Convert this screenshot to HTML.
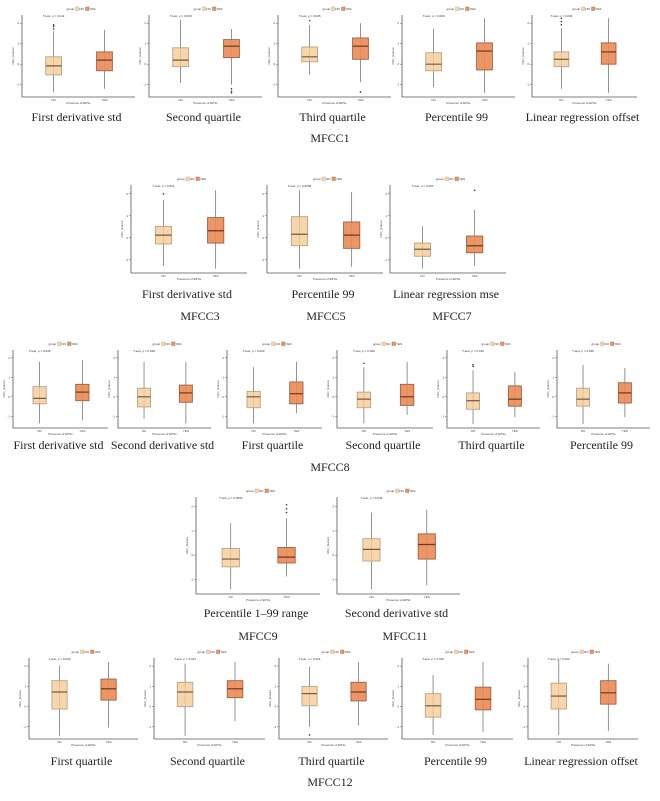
<!DOCTYPE html>
<html><head><meta charset="utf-8">
<style>
html,body{margin:0;padding:0;background:#fff;}
#wrap{position:relative;width:660px;height:801px;overflow:hidden;}
svg{position:absolute;left:0;top:0;}
</style></head>
<body>
<div id="wrap">
<svg id="fig" width="660" height="801" viewBox="0 0 660 801" xmlns="http://www.w3.org/2000/svg"></svg>
</div>
<script>
// ---- data (values on 0-100 normalized axis of each panel): [lowWhisker, q1, median, q3, highWhisker]
const panelTitles = ["First derivative std","Second quartile","Third quartile","Percentile 99","Linear regression offset",
 "First derivative std","Percentile 99","Linear regression mse",
 "First derivative std","Second derivative std","First quartile","Second quartile","Third quartile","Percentile 99",
 "Percentile 1–99 range","Second derivative std",
 "First quartile","Second quartile","Third quartile","Percentile 99","Linear regression offset"];
const groups = ["NO","YES"];
const noStats = [
 [6,27,38,49,80],[17,37,45,60,94],[27,43,49,61,88],[12,32,40,54,83],[10,37,46,55,84],
 [8,33,43,53,83],[5,31,44,64,94],[5,19,27,34,53],
 [6,31,38,53,85],[12,27,40,51,85],[6,26,40,47,78],[6,26,37,46,78],[5,24,35,45,74],[5,28,37,51,81],
 [5,28,36,47,73],[5,34,46,57,84],
 [4,37,58,72,91],[4,40,58,70,93],[15,41,56,65,89],[5,27,41,56,79],[5,37,53,69,98]];
const yesStats = [
 [10,32,45,55,82],[15,48,62,70,83],[18,46,62,72,90],[5,33,56,66,96],[5,40,55,66,96],
 [5,34,48,63,94],[7,28,43,58,92],[8,23,31,42,72],
 [10,35,46,56,87],[6,33,45,55,85],[19,31,44,59,85],[17,29,40,56,85],[14,28,37,54,72],[14,32,45,58,77],
 [18,32,38,48,78],[9,36,51,62,87],
 [14,48,62,74,95],[22,51,62,72,95],[17,47,58,70,95],[9,36,49,64,95],[10,43,57,72,93]];
const noOutliers = [[83,86,88],[],[93],[],[88,92,96],[90],[],[],[],[],[],[83],[79,81],[],[],[],[],[],[5],[],[]];
const yesOutliers = [[],[10,7,5],[6],[],[],[],[],[94],[],[],[],[],[],[],[84,88,92],[],[],[],[],[],[]];
const pTexts = ["T-test, p = 0.211","T-test, p = 0.009","T-test, p = 0.006","T-test, p = 0.009","T-test, p = 0.003",
 "T-test, p = 0.001","T-test, p = 0.0099","T-test, p = 0.001",
 "T-test, p = 0.036","T-test, p = 0.028","T-test, p = 0.020","T-test, p = 0.036","T-test, p = 0.016","T-test, p = 0.036",
 "T-test, p = 0.0093","T-test, p = 0.043",
 "T-test, p = 0.009","T-test, p = 0.021","T-test, p = 0.004","T-test, p = 0.040","T-test, p = 0.020"];
const tickLabels = ["-1","0","1","2"];
const rowLabels = ["MFCC1","MFCC3","MFCC5","MFCC7","MFCC8","MFCC9","MFCC11","MFCC12"];

// ---- layout (pixels)
const layout = [
 [22,15,113,82,117],[149,15,113,82,117],[278,15,113,82,117],[402,15,113,82,117],[532,15,105,82,117],
 [131,185,116,88,294],[267,185,116,88,294],[390,185,116,88,294],
 [13,350,95,78,445],[118,350,93,78,445],[227,350,95,78,445],[337,350,96,78,445],[447,350,93,78,445],[557,350,93,78,445],
 [196,497,124,97,613],[337,497,123,97,613],
 [29,658,109,81,761],[154,658,111,81,761],[279,658,109,81,761],[402,658,111,81,761],[528,658,110,81,761]];
const rowLabelPos = [[330,138],[200,316],[326,316],[452,316],[330,467],[258,636],[405,636],[330,782]];

const NS="http://www.w3.org/2000/svg";
const svg=document.getElementById('fig');
function mk(tag,attrs,parent){const e=document.createElementNS(NS,tag);for(const k in attrs)e.setAttribute(k,attrs[k]);(parent||svg).appendChild(e);return e;}
const fills=["#f9d6aa","#ef9563"], strokes=["#b8a386","#9c6244"], meds=["#6b5a48","#6a3a25"];

panelTitles.forEach((title,i)=>{
  const [x,top,w,h,ty]=layout[i];
  const g=mk('g',{});
  
  
  const yS=v=>top+h-v/100*h;
  const xS=k=>x+w*(k===0?0.28:0.73);
  const ax=mk('path',{d:`M${x},${top} V${top+h} H${x+w}`,stroke:'#555',fill:'none','stroke-width':0.8},g);
  
  
  tickLabels.forEach((t,j)=>{
    const yy=yS(15+j*25);
    mk('line',{x1:x-2,x2:x,y1:yy,y2:yy,stroke:'#555','stroke-width':0.5},g);
    const tl=mk('text',{x:x-3,y:yy+1,'font-size':3,'text-anchor':'end',fill:'#444','font-family':'Liberation Sans, sans-serif'},g);
    tl.textContent=t;
    
    
  });
  const lx=x+w/2;
  const lg=mk('text',{x:lx-12,y:top-5,'font-size':3,fill:'#333','font-family':'Liberation Sans, sans-serif'},g);
  lg.textContent='group';
  
  
  [0,1].forEach(k=>{
    const r=mk('rect',{x:lx-3+k*10,y:top-8,width:3.5,height:3.5,fill:fills[k],stroke:strokes[k],'stroke-width':0.4},g);
    
    
    const lt=mk('text',{x:lx+1+k*10,y:top-5,'font-size':3,fill:'#333','font-family':'Liberation Sans, sans-serif'},g);
    lt.textContent=groups[k];
    
    
  });
  const pt=mk('text',{x:x+w*0.28,y:top+2,'font-size':3,fill:'#333','text-anchor':'middle','font-family':'Liberation Sans, sans-serif'},g);
  pt.textContent=pTexts[i];
  
  
  [noStats[i],yesStats[i]].forEach((s,k)=>{
    const cx=xS(k), bw=w*0.14;
    const wl=mk('line',{x1:cx,x2:cx,y1:yS(s[4]),y2:yS(s[0]),stroke:'#666','stroke-width':0.7},g);
    
    
    const b=mk('rect',{x:cx-bw/2,y:yS(s[3]),width:bw,height:yS(s[1])-yS(s[3]),fill:fills[k],stroke:strokes[k],'stroke-width':0.9},g);
    
    
    mk('line',{x1:cx,x2:cx,y1:yS(s[3]),y2:yS(s[1]),stroke:'#888','stroke-width':0.5,'stroke-dasharray':'1,1'},g);
    const m=mk('line',{x1:cx-bw/2,x2:cx+bw/2,y1:yS(s[2]),y2:yS(s[2]),stroke:meds[k],'stroke-width':1.2},g);
    
    
    (k===0?noOutliers[i]:yesOutliers[i]).forEach(o=>{
      const c=mk('circle',{cx:cx,cy:yS(o),r:0.8,fill:'#333'},g);
      
      
    });
    const xl=mk('text',{x:cx,y:top+h+4,'font-size':3,'text-anchor':'middle',fill:'#444','font-family':'Liberation Sans, sans-serif'},g);
    xl.textContent=groups[k];
    
    
  });
  const xt=mk('text',{x:x+w/2,y:top+h+7,'font-size':3,'text-anchor':'middle',fill:'#444','font-family':'Liberation Sans, sans-serif'},g);
  xt.textContent='Presence of EPSs';
  
  
  const yt=mk('text',{x:0,y:0,'font-size':3,'text-anchor':'middle',fill:'#444','font-family':'Liberation Sans, sans-serif',transform:`translate(${x-8},${top+h/2}) rotate(-90)`},g);
  yt.textContent='mfcc_feature';
  
  
  const tt=mk('text',{x:x+w/2-2,y:ty+4,'font-size':12,'text-anchor':'middle',fill:'#222','font-family':'Liberation Serif, serif'},g);
  tt.textContent=title;
  
  
});
rowLabels.forEach((r,i)=>{
  const t=mk('text',{x:rowLabelPos[i][0],y:rowLabelPos[i][1]+4,'font-size':12,'text-anchor':'middle',fill:'#222','font-family':'Liberation Serif, serif'});
  t.textContent=r;
  
  
});
</script>
</body></html>
